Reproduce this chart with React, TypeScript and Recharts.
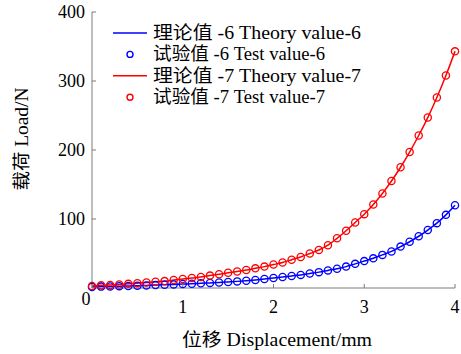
import React from 'react';
import { ComposedChart, Line, XAxis, YAxis, Label } from 'recharts';

const displacement = [
  0, 0.1, 0.2, 0.3, 0.4, 0.5, 0.6, 0.7, 0.8, 0.9,
  1.0, 1.1, 1.2, 1.3, 1.4, 1.5, 1.6, 1.7, 1.8, 1.9,
  2.0, 2.1, 2.2, 2.3, 2.4, 2.5, 2.6, 2.7, 2.8, 2.9,
  3.0, 3.1, 3.2, 3.3, 3.4, 3.5, 3.6, 3.7, 3.8, 3.9, 4.0,
];

const load6 = [
  1.5, 2, 2.3, 2.7, 3, 3.4, 3.8, 4.2, 4.7, 5.2,
  5.7, 6.2, 6.8, 7.4, 8, 8.8, 9.6, 10.6, 11.7, 13,
  14.5, 16, 17.5, 19, 21, 23, 25.5, 28, 31, 35,
  39, 43, 48, 53, 60, 67, 75, 84, 94, 106, 120,
];

const load7 = [
  3, 4, 4.5, 5, 6, 7, 8, 9, 10, 11.5,
  13, 14.5, 16, 18, 20, 22, 24, 26, 28.5, 31,
  34, 37, 41, 45, 50, 55, 62, 72, 83, 95,
  107, 121, 137, 155, 175, 197, 221, 247, 276, 308, 343,
];

const xTicks = [0, 1, 2, 3, 4];
const yTicks = [100, 200, 300, 400];

const legendItems = [
  { label: '理论值 -6 Theory value-6', color: '#0000ff', kind: 'line', width: 208 },
  { label: '试验值 -6 Test value-6', color: '#0000ff', kind: 'dot', width: 172 },
  { label: '理论值 -7 Theory value-7', color: '#ff0000', kind: 'line', width: 208 },
  { label: '试验值 -7 Test value-7', color: '#ff0000', kind: 'dot', width: 172 },
];

const FONT = "'Liberation Serif', 'Noto Sans CJK SC', serif";
const AXIS = '#7a7a7a';
const FS = 18;

const data = displacement.map((x, i) => ({ x, t6: load6[i], e6: load6[i], t7: load7[i], e7: load7[i] }));

const XTick = ({ x, y, payload }: any) => {
  const zero = payload.value === 0;
  return (
    <text x={x + (zero ? -6 : 0)} y={y + (zero ? -8 : 0)} dy="0.71em" textAnchor="middle"
      fontFamily={FONT} fontSize={FS} fill="#000">
      {payload.value}
    </text>
  );
};

const YTick = ({ x, y, payload }: any) => (
  <text x={x} y={y} dy="0.35em" textAnchor="end" fontFamily={FONT} fontSize={FS} fill="#000">
    {payload.value}
  </text>
);

const YLabel = ({ viewBox }: any) => {
  const cy = 139;
  return (
    <text x={22} y={cy} transform={`rotate(-90, 22, ${cy})`} textAnchor="middle" dominantBaseline="central"
      fontFamily={FONT} fontSize={FS} fill="#000" textLength={103} lengthAdjust="spacingAndGlyphs">
      载荷 Load/N
    </text>
  );
};

const XLabel = ({ viewBox }: any) => (
  <text x={277} y={340} textAnchor="middle" dominantBaseline="central"
    fontFamily={FONT} fontSize={FS} fill="#000" textLength={190} lengthAdjust="spacingAndGlyphs">
    位移 Displacement/mm
  </text>
);

const LegendBox = () => (
  <g>
    {legendItems.map((item, i) => {
      const y = 33 + i * 21.4;
      return (
        <g key={item.label}>
          {item.kind === 'line' ? (
            <line x1={113} x2={147} y1={y} y2={y} stroke={item.color} strokeWidth={1.5} />
          ) : (
            <circle cx={130} cy={y} r={3} fill="none" stroke={item.color} strokeWidth={1.4} />
          )}
          <text x={153} y={y} dominantBaseline="central" fontFamily={FONT} fontSize={FS} fill="#000"
            textLength={item.width} lengthAdjust="spacingAndGlyphs">
            {item.label}
          </text>
        </g>
      );
    })}
  </g>
);

export default function App() {
  const dot6 = { r: 3.6, fill: 'none', stroke: '#0000ff', strokeWidth: 1.3 };
  const dot7 = { r: 3.6, fill: 'none', stroke: '#ff0000', strokeWidth: 1.3 };
  return (
    <div style={{ position: 'absolute', left: 0, top: 0, width: 461, height: 354, background: '#fff' }}>
      <ComposedChart width={461} height={354} data={data} margin={{ top: 12, right: 6, bottom: 0, left: 0 }}>
        <XAxis dataKey="x" type="number" domain={[0, 4]} ticks={xTicks} height={66}
          stroke={AXIS} tickSize={-4} tickMargin={16} tick={<XTick />} interval={0}>
          <Label content={<XLabel />} />
        </XAxis>
        <YAxis type="number" domain={[0, 400]} ticks={yTicks} width={92} stroke={AXIS}
          tickSize={-4} tickMargin={11} interval={0} tick={<YTick />}>
          <Label content={<YLabel />} />
        </YAxis>
        <Line dataKey="t6" type="monotone" stroke="#0000ff" strokeWidth={1.5} dot={false} isAnimationActive={false} />
        <Line dataKey="e6" stroke="none" dot={dot6} activeDot={false} isAnimationActive={false} />
        <Line dataKey="t7" type="monotone" stroke="#ff0000" strokeWidth={1.5} dot={false} isAnimationActive={false} />
        <Line dataKey="e7" stroke="none" dot={dot7} activeDot={false} isAnimationActive={false} />
        <LegendBox />
      </ComposedChart>
    </div>
  );
}
